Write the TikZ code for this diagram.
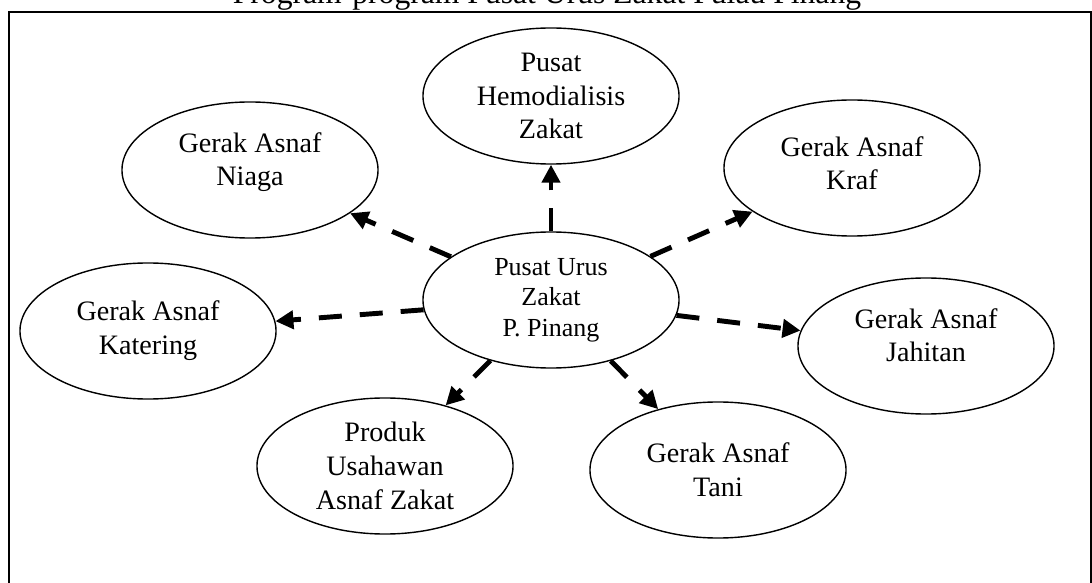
\documentclass[tikz,border=0pt]{standalone}
\usepackage{fontspec}
\setmainfont{Liberation Serif}
\usetikzlibrary{shapes.geometric,arrows.meta}
\tikzset{
  prog/.style={draw,ellipse,line width=1pt,minimum width=6.4cm,minimum height=3.4cm,
    inner sep=0pt,align=center,font=\fontsize{20}{24}\selectfont},
  hub/.style={prog,font=\fontsize{18.5}{21.6}\selectfont},
  link/.style={line width=3.5pt,dash pattern=on 0.575cm off 0.45cm,
    -{Triangle[length=0.45cm,width=0.45cm]}}
}
\begin{document}
\begin{tikzpicture}[x=0.025cm,y=-0.025cm]
	\useasboundingbox (0,0) rectangle (1092,583);
	\node[anchor=base,font=\fontsize{22.5}{27}\selectfont] (judul) at (547,4) {Program-program Pusat Urus Zakat Pulau Pinang};
	\draw[line width=1.4pt] (9,12) rectangle (1091,640);
	%
	\node[hub]  (puz)   at (551,300) {Pusat Urus\\Zakat\\P. Pinang};
	\node[prog] (hemo)  at (551,96)  {Pusat\\Hemodialisis\\Zakat};
	\node[prog] (niaga) at (250,170) {Gerak Asnaf\\Niaga\\[-0.3cm]\mbox{}};
	\node[prog] (kraf)  at (852,168) {Gerak Asnaf\\Kraf\\[-0.6cm]\mbox{}};
	\node[prog] (kater) at (148,331) {Gerak Asnaf\\Katering};
	\node[prog] (jahit) at (926,346) {Gerak Asnaf\\Jahitan\\[-0.3cm]\mbox{}};
	\node[prog] (produk) at (385,466) {Produk\\Usahawan\\Asnaf Zakat};
	\node[prog] (tani)  at (718,470) {Gerak Asnaf\\Tani};
	%
	\draw[link] (puz) -- (hemo);
	\draw[link] (puz) -- (niaga);
	\draw[link] (puz) -- (kraf);
	\draw[link] (puz) -- (kater);
	\draw[link] (puz) -- (jahit);
	\draw[link] (puz) -- (produk);
	\draw[link] (puz) -- (tani);
\end{tikzpicture}
\end{document}
